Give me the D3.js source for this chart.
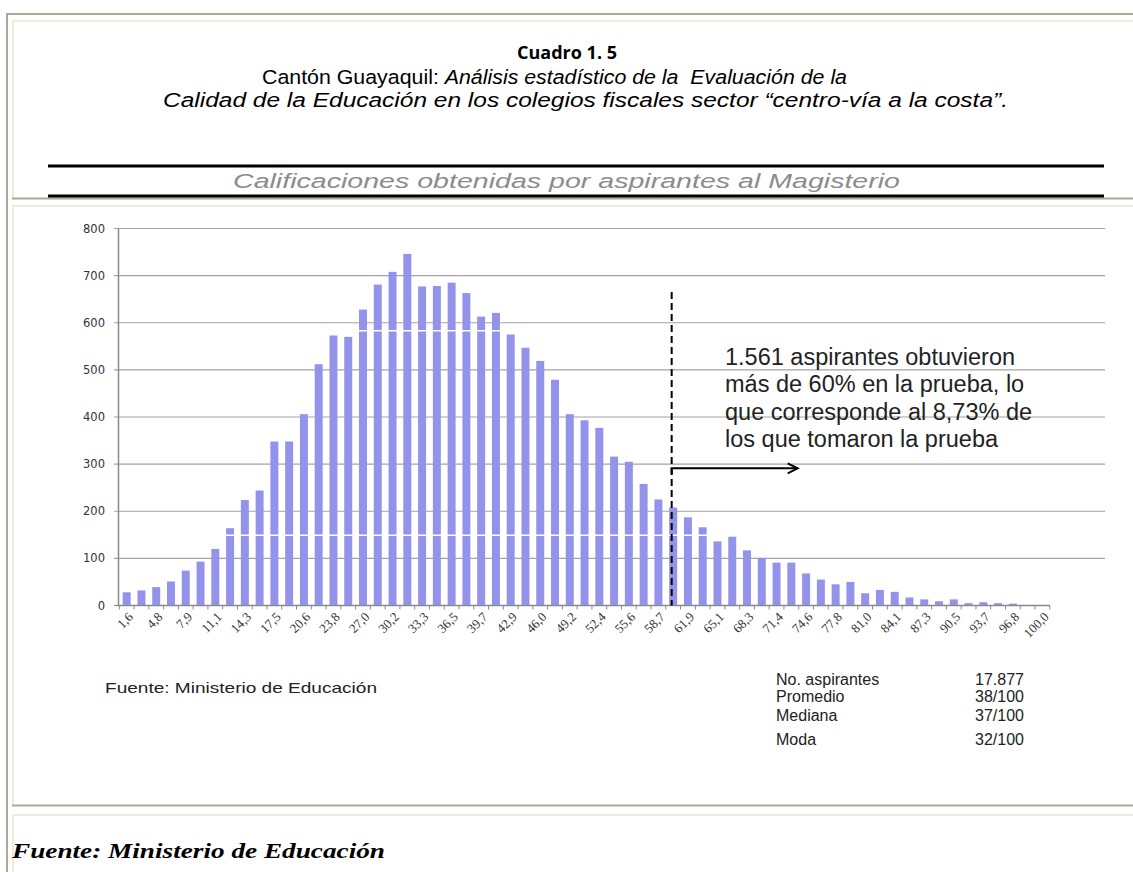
<!DOCTYPE html>
<html>
<head>
<meta charset="utf-8">
<script src="https://cdn.jsdelivr.net/npm/d3@7/dist/d3.min.js"></script>
<style>
body { margin: 0; background: #ffffff; }
text { white-space: pre; }
</style>
</head>
<body>
<div id="svgBody"></div>
<script>
// score classes (x axis) and number of candidates per class
var categories = ["1,6","3,2","4,8","6,3","7,9","9,5","11,1","12,7","14,3","15,9",
    "17,5","19,0","20,6","22,2","23,8","25,4","27,0","28,6","30,2","31,7",
    "33,3","34,9","36,5","38,1","39,7","41,3","42,9","44,4","46,0","47,6",
    "49,2","50,8","52,4","54,0","55,6","57,1","58,7","60,3","61,9","63,5",
    "65,1","66,7","68,3","69,8","71,4","73,0","74,6","76,2","77,8","79,4",
    "81,0","82,5","84,1","85,7","87,3","88,9","90,5","92,1","93,7","95,2",
    "96,8","98,4","100,0"];
var counts = [28,32,39,51,74,93,120,164,224,244,
    348,348,406,512,573,570,628,681,708,746,
    677,678,685,663,613,621,575,547,519,479,
    406,393,377,316,305,258,225,208,187,166,
    136,146,117,101,91,91,68,55,45,50,
    26,33,29,17,13,9,13,5,7,5,
    4,1,0];
var tickLabels = ["1,6","4,8","7,9","11,1","14,3","17,5","20,6","23,8","27,0","30,2",
    "33,3","36,5","39,7","42,9","46,0","49,2","52,4","55,6","58,7","61,9",
    "65,1","68,3","71,4","74,6","77,8","81,0","84,1","87,3","90,5","93,7",
    "96,8","100,0"];
var yTicks = [0,100,200,300,400,500,600,700,800];
var cutCategory = "60,3";
var noteLines = ["1.561 aspirantes obtuvieron", "más de 60% en la prueba, lo",
    "que corresponde al 8,73% de", "los que tomaron la prueba"];
var statNames = ["No. aspirantes", "Promedio", "Mediana", "Moda"];
var statValues = ["17.877", "38/100", "37/100", "32/100"];

var W = 1133, H = 872;
var gray = "#aaa899", beige = "#eeebdc";

var svg = d3.select("#svgBody")
    .append("svg")
    .attr("width", W)
    .attr("height", H);

// table frame (outer border + three cells)
function box(x, y, w, h, c) {
    svg.append("rect").attr("x", x).attr("y", y).attr("width", w).attr("height", h).attr("fill", c);
}
box(6, 13, W - 6, 2, gray);
box(6, 13, 2, H - 13, gray);
box(12, 20, W - 12, 2, beige);
box(12, 20, 2, 179, beige);
box(12, 197.5, W - 12, 2, gray);
box(12, 205, W - 12, 2, beige);
box(12, 205, 2, 601, beige);
box(12, 804.5, W - 12, 2, gray);
box(12, 814, W - 12, 2, beige);
box(12, 814, 2, H - 814, beige);

function label(x, y, txt, opts) {
    var t = svg.append("text")
        .attr("x", x)
        .attr("y", y)
        .attr("font-family", opts.family || "'Liberation Sans', Arial, sans-serif")
        .attr("font-size", opts.size)
        .attr("fill", opts.fill || "#000")
        .attr("text-anchor", opts.anchor || "start")
        .text(txt);
    if (opts.italic) t.attr("font-style", "italic");
    if (opts.bold) t.attr("font-weight", "bold");
    if (opts.len) t.attr("textLength", opts.len).attr("lengthAdjust", "spacingAndGlyphs");
    return t;
}

// heading
label(567, 59, "Cuadro 1. 5", {family: "'Liberation Sans Narrow', 'Open Sans', sans-serif", size: 17, bold: true, anchor: "middle", len: 100});
var l2 = svg.append("text")
    .attr("x", 262).attr("y", 84)
    .attr("font-family", "'Liberation Sans', Arial, sans-serif")
    .attr("font-size", 20.5)
    .attr("textLength", 585).attr("lengthAdjust", "spacingAndGlyphs");
l2.append("tspan").text("Cantón Guayaquil: ");
l2.append("tspan").attr("font-style", "italic").text("Análisis estadístico de la  Evaluación de la");
label(163, 107, "Calidad de la Educación en los colegios fiscales sector “centro-vía a la costa”.",
    {size: 20.5, italic: true, len: 845});

box(48, 164.5, 1056, 3, "#000");
label(233, 188, "Calificaciones obtenidas por aspirantes al Magisterio",
    {size: 20.5, italic: true, fill: "#8c8c8c", len: 667});
box(48, 194.5, 1056, 3, "#000");

// chart
var x = d3.scaleBand()
    .domain(categories)
    .range([119.3, 1049.8])
    .paddingInner(0.46)
    .paddingOuter(0.23);
var y = d3.scaleLinear()
    .domain([0, 800])
    .range([605.5, 228.5]);
var bw = x.bandwidth(), step = x.step();

// gridlines
svg.append("g")
    .selectAll("line")
    .data(yTicks.slice(1))
    .enter()
    .append("line")
    .attr("x1", 114).attr("x2", 1105)
    .attr("y1", function(d) { return y(d); })
    .attr("y2", function(d) { return y(d); })
    .attr("stroke", "#a3a3a3")
    .attr("stroke-width", 1.2);

// bars
svg.append("g")
    .selectAll("rect")
    .data(counts)
    .enter()
    .append("rect")
    .attr("x", function(d, i) { return x(categories[i]); })
    .attr("y", function(d) { return y(d); })
    .attr("width", bw)
    .attr("height", function(d) { return y(0) - y(d); })
    .attr("fill", "#9393ec");

// thin seams across the bars, as in the scanned picture
[149, 583].forEach(function(v) {
    svg.append("line")
        .attr("x1", 119).attr("x2", 1050)
        .attr("y1", y(v)).attr("y2", y(v))
        .attr("stroke", "#fff").attr("stroke-width", 1.5);
});

// y axis
svg.append("line")
    .attr("x1", 118.5).attr("x2", 118.5)
    .attr("y1", y(800)).attr("y2", y(0))
    .attr("stroke", "#8a8a8a").attr("stroke-width", 1.5);
svg.append("line")
    .attr("x1", 114).attr("x2", 118.5)
    .attr("y1", y(0)).attr("y2", y(0))
    .attr("stroke", "#8a8a8a").attr("stroke-width", 1.2);
svg.append("g")
    .selectAll("text")
    .data(yTicks)
    .enter()
    .append("text")
    .attr("x", 105)
    .attr("y", function(d) { return y(d) + 4; })
    .attr("text-anchor", "end")
    .attr("font-family", "'DejaVu Sans', sans-serif")
    .attr("font-size", 11.5)
    .attr("fill", "#333")
    .text(function(d) { return d; });

// x axis
svg.append("line")
    .attr("x1", 118).attr("x2", 1050)
    .attr("y1", y(0)).attr("y2", y(0))
    .attr("stroke", "#8a8a8a").attr("stroke-width", 1.5);
var bounds = categories.map(function(c) { return x(c) + bw / 2 - step / 2; });
bounds.push(x(categories[categories.length - 1]) + bw / 2 + step / 2);
svg.append("g")
    .selectAll("line")
    .data(bounds)
    .enter()
    .append("line")
    .attr("x1", function(d) { return d; })
    .attr("x2", function(d) { return d; })
    .attr("y1", y(0)).attr("y2", y(0) + 4)
    .attr("stroke", "#8a8a8a");
svg.append("g")
    .selectAll("text")
    .data(tickLabels)
    .enter()
    .append("text")
    .attr("transform", function(d) {
        return "translate(" + (x(d) + bw / 2 + 4) + "," + (y(0) + 9) + ") rotate(-45)";
    })
    .attr("text-anchor", "end")
    .attr("dy", "0.35em")
    .attr("font-family", "'Liberation Serif', 'Times New Roman', serif")
    .attr("font-size", 13)
    .attr("fill", "#333")
    .text(function(d) { return d; });

// 60% cut line and arrow
var cx = x(cutCategory) + bw / 2 - 1.5;
svg.append("line")
    .attr("x1", cx).attr("x2", cx)
    .attr("y1", y(665)).attr("y2", y(0))
    .attr("stroke", "#000").attr("stroke-width", 2)
    .attr("stroke-dasharray", "7,4");
var ay = y(291);
svg.append("path")
    .attr("d", "M" + cx + "," + (ay + 6) + "V" + ay + "H" + (cx + 126))
    .attr("fill", "none").attr("stroke", "#000").attr("stroke-width", 2);
svg.append("path")
    .attr("d", "M" + (cx + 116) + "," + (ay - 5) + "L" + (cx + 126) + "," + ay + "L" + (cx + 116) + "," + (ay + 5))
    .attr("fill", "none").attr("stroke", "#000").attr("stroke-width", 2);

// note
noteLines.forEach(function(s, i) {
    label(725, 365 + i * 27.3, s, {size: 23.5, fill: "#222"});
});

// source and statistics under the chart
label(105, 693, "Fuente: Ministerio de Educación", {size: 15, fill: "#222", len: 272});
statNames.forEach(function(s, i) {
    label(776, [685, 702, 721, 745][i], s, {size: 16, fill: "#222"});
});
statValues.forEach(function(s, i) {
    label(1024, [685, 702, 721, 745][i], s, {size: 16, fill: "#222", anchor: "end"});
});

// bottom cell
label(12, 858, "Fuente: Ministerio de Educación",
    {family: "'Liberation Serif', 'Times New Roman', serif", size: 20, bold: true, italic: true, len: 373});
</script>
</body>
</html>
